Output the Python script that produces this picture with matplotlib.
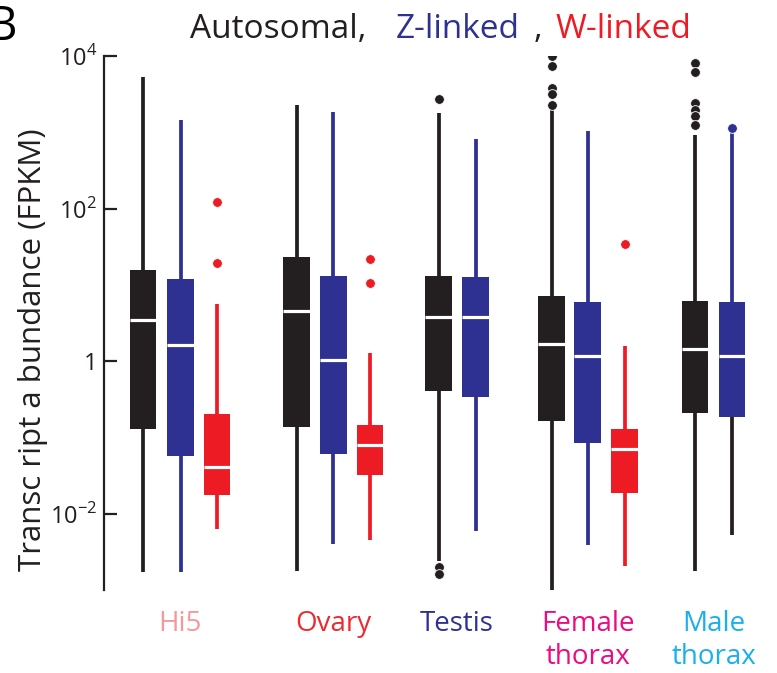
import numpy as np
import matplotlib
matplotlib.use("Agg")
import matplotlib.pyplot as plt
from matplotlib.ticker import FixedLocator, FixedFormatter, NullLocator

plt.rcParams['font.family'] = ['Open Sans', 'DejaVu Sans']
plt.rcParams['mathtext.fontset'] = 'custom'
plt.rcParams['mathtext.rm'] = 'Open Sans'

# tissues and chromosome classes
tissues = ["Hi5", "Ovary", "Testis", "Female\nthorax", "Male\nthorax"]
tissue_colors = ["#F4989C", "#EE2A2F", "#2E3192", "#EC0B80", "#1BB0EA"]
chrom = ["A", "Z", "W", "A", "Z", "W", "A", "Z", "A", "Z", "W", "A", "Z"]
box_tissue = [0, 0, 0, 1, 1, 1, 2, 2, 3, 3, 3, 4, 4]

# FPKM summaries per box (whisker ends, quartiles, median)
whis_hi = [5300, 1440, 5.6, 2260, 1830, 1.27, 1770, 810, 1940, 1030, 1.57, 910, 1060]
q3 = [15.5, 11.9, 0.20, 23, 13, 0.144, 13, 12.6, 7.1, 5.9, 0.129, 6.1, 5.9]
median = [3.5, 1.62, 0.041, 4.5, 1.03, 0.079, 3.76, 3.76, 1.66, 1.16, 0.070, 1.43, 1.16]
q1 = [0.13, 0.057, 0.0175, 0.136, 0.060, 0.032, 0.40, 0.34, 0.163, 0.084, 0.0186, 0.208, 0.185]
whis_lo = [1.7e-3, 1.7e-3, 6.3e-3, 1.8e-3, 4.0e-3, 4.5e-3, 2.4e-3, 5.9e-3, 1.0e-3, 3.9e-3, 2.05e-3, 1.76e-3, 5.2e-3]
outliers = [
    [], [], [121, 19.2],
    [], [], [21.7, 10.5],
    [2710, 2.0e-3, 1.6e-3], [],
    [10000, 7400, 3800, 3200, 2260], [], [34],
    [8000, 6100, 2400, 1940, 1620, 1240], [1130],
]

chrom_colors = {"A": "#231F20", "Z": "#2E3192", "W": "#ED1C24"}
positions = [143, 180.5, 217, 296.5, 333.3, 370, 438.5, 475.5,
             551.5, 587.5, 624.5, 695, 732]

stats = []
for i in range(len(chrom)):
    stats.append(dict(med=median[i], q1=q1[i], q3=q3[i],
                      whislo=whis_lo[i], whishi=whis_hi[i],
                      fliers=outliers[i]))

fig = plt.figure(figsize=(7.77, 6.73), dpi=100)
ax = fig.add_axes([104 / 777, 83 / 673, 673 / 777, 534 / 673])

art = ax.bxp(stats, positions=positions, widths=26.7, patch_artist=True,
             showcaps=False,
             boxprops=dict(linewidth=0),
             whiskerprops=dict(linewidth=2.7, solid_capstyle='butt'),
             medianprops=dict(color='white', linewidth=2.3),
             flierprops=dict(marker='o', markersize=7, markeredgecolor='white',
                             markeredgewidth=0.6))

for i, c in enumerate(chrom):
    col = chrom_colors[c]
    art['boxes'][i].set_facecolor(col)
    art['boxes'][i].set_edgecolor(col)
    art['whiskers'][2 * i].set_color(col)
    art['whiskers'][2 * i + 1].set_color(col)
    art['fliers'][i].set_markerfacecolor(col)
    art['medians'][i].set_zorder(4)
# lower whisker of the male thorax Z box is drawn in black
art['whiskers'][2 * 12].set_color(chrom_colors["A"])

ax.set_yscale('log')
ax.set_ylim(1e-3, 1e4)
ax.set_xlim(104, 777)

for s in ['top', 'right', 'bottom']:
    ax.spines[s].set_visible(False)
ax.spines['left'].set_linewidth(1.6)
ax.spines['left'].set_color('#231F20')
ax.set_xticks([])
ax.yaxis.set_major_locator(FixedLocator([1e-2, 1, 1e2, 1e4]))
ax.yaxis.set_major_formatter(FixedFormatter([r'$10^{-2}$', '1', r'$10^{2}$', r'$10^{4}$']))
ax.yaxis.set_minor_locator(NullLocator())
ax.tick_params(axis='y', direction='in', length=9, width=1.6, labelsize=17,
               pad=5, color='#231F20', labelcolor='#231F20')
ax.set_ylabel("Transc ript a bundance (FPKM)", fontsize=22.5, color='#231F20')
ax.yaxis.set_label_coords(-0.083, 0.45)

# tissue names under each group
centers = []
for t in range(len(tissues)):
    xs = [positions[i] for i in range(len(chrom)) if box_tissue[i] == t]
    centers.append(np.mean(xs))
for t, name in enumerate(tissues):
    ax.text(centers[t], -0.037, name, transform=ax.get_xaxis_transform(),
            ha='center', va='top', fontsize=20, color=tissue_colors[t],
            linespacing=1.25)

# coloured title
fig.text(190 / 777, 1 - 38 / 673, "Autosomal,", fontsize=24, color='#231F20', va='baseline')
fig.text(396 / 777, 1 - 38 / 673, "Z-linked", fontsize=24, color='#2E3192', va='baseline')
fig.text(534 / 777, 1 - 38 / 673, ",", fontsize=24, color='#231F20', va='baseline')
fig.text(556 / 777, 1 - 38 / 673, "W-linked", fontsize=24, color='#ED1C24', va='baseline')
fig.text(-0.018, 1 - 40 / 673, "B", fontsize=34, color='black', va='baseline')

fig.savefig("out.png", dpi=100)
